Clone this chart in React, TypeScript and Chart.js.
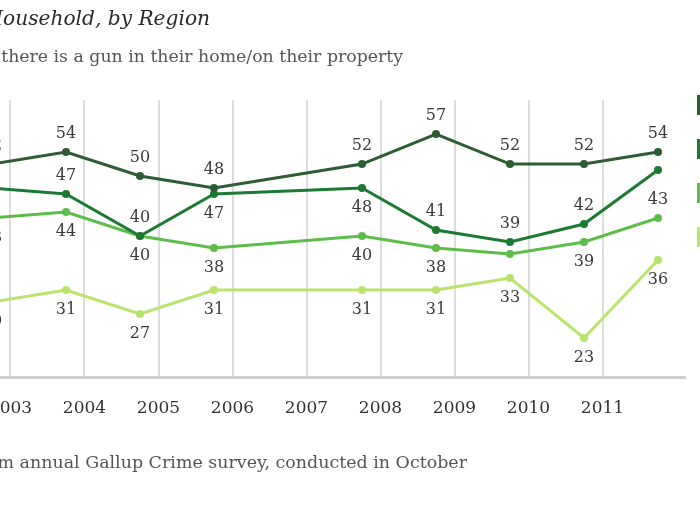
import React, { useEffect, useRef } from "react";
import { Chart, registerables } from "chart.js";

Chart.register(...registerables);

// ---- data ----
const years = [2003, 2004, 2005, 2006, 2008, 2009, 2010, 2011, 2012];
const tickYears = [2003, 2004, 2005, 2006, 2007, 2008, 2009, 2010, 2011];
const south = [52, 54, 50, 48, 52, 57, 52, 52, 54];
const midwest = [48, 47, 40, 47, 48, 41, 39, 42, 51];
const west = [43, 44, 40, 38, 40, 38, 37, 39, 43];
const east = [29, 31, 27, 31, 31, 31, 33, 23, 36];
const seriesNames = ["South", "Midwest", "West", "East"];

const titleText = "Gun in Household, by Region";
const subtitleText = "% Saying there is a gun in their home/on their property";
const footText = "Data from annual Gallup Crime survey, conducted in October";

// ---- style config ----
const colors = ["#2d5d33", "#1d7a33", "#5ebd4a", "#b8e36d"];
// label placement: a = above, b = below, "" = none
const labelPlacement = [
  ["a", "a", "a", "a", "a", "a", "a", "a", "a"],
  ["", "a", "a", "b", "b", "a", "a", "a", ""],
  ["b", "b", "b", "b", "b", "b", "", "b", "a"],
  ["b", "b", "b", "b", "b", "b", "b", "b", "b"],
];
const SERIF = "'DejaVu Serif', Georgia, serif";

function fitSize(ctx: CanvasRenderingContext2D, text: string, target: number, style: string) {
  ctx.font = `${style} 100px ${SERIF}`;
  const w = ctx.measureText(text).width;
  return (100 * target) / w;
}

const textPlugin = {
  id: "texts",
  afterDraw(chart: any) {
    const ctx: CanvasRenderingContext2D = chart.ctx;
    ctx.save();
    ctx.textAlign = "right";
    ctx.textBaseline = "alphabetic";
    let s = fitSize(ctx, "ousehold, by Region", 207, "italic");
    ctx.font = `italic ${s}px ${SERIF}`;
    ctx.fillStyle = "#2a2a2a";
    ctx.fillText(titleText, 210, 25);
    s = fitSize(ctx, "there is a gun in their home/on their property", 402, "normal");
    ctx.font = `normal ${s}px ${SERIF}`;
    ctx.fillStyle = "#555";
    ctx.fillText(subtitleText, 403, 62);
    s = fitSize(ctx, "m annual Gallup Crime survey, conducted in October", 470, "normal");
    ctx.font = `normal ${s}px ${SERIF}`;
    ctx.fillStyle = "#555";
    ctx.fillText(footText, 467, 468);
    // legend squares (their labels lie beyond the right edge)
    chart.data.datasets.forEach((ds: any, i: number) => {
      ctx.fillStyle = ds.borderColor;
      ctx.fillRect(697, 95 + 44 * i, 20, 20);
    });
    ctx.restore();
  },
};

const labelPlugin = {
  id: "pointLabels",
  afterDatasetsDraw(chart: any) {
    const ctx: CanvasRenderingContext2D = chart.ctx;
    ctx.save();
    ctx.font = `16px ${SERIF}`;
    ctx.fillStyle = "#3a3a3a";
    ctx.textAlign = "center";
    ctx.textBaseline = "middle";
    chart.data.datasets.forEach((ds: any, i: number) => {
      const meta = chart.getDatasetMeta(i);
      meta.data.forEach((pt: any, j: number) => {
        const pos = labelPlacement[i][j];
        if (!pos) return;
        const v = ds.data[j].y;
        const y = pos === "a" ? pt.y - 18 : pt.y + 20;
        ctx.fillText(String(v), pt.x, y);
      });
    });
    ctx.restore();
  },
};

export default function App() {
  const ref = useRef<HTMLCanvasElement | null>(null);

  useEffect(() => {
    if (!ref.current) return;
    const series = [south, midwest, west, east];
    const chart = new Chart(ref.current, {
      type: "line",
      data: {
        datasets: series.map((vals, i) => ({
          label: seriesNames[i],
          data: vals.map((v, j) => ({ x: years[j], y: v })),
          borderColor: colors[i],
          backgroundColor: colors[i],
          borderWidth: 3,
          pointRadius: 4,
          pointBorderWidth: 0,
          pointBackgroundColor: colors[i],
          tension: 0,
          clip: false as any,
        })),
      },
      options: {
        responsive: false,
        animation: false,
        devicePixelRatio: 1,
        layout: {
          autoPadding: false,
          padding: { left: 0, right: 15, top: 100, bottom: 107 },
        },
        plugins: {
          legend: { display: false },
          tooltip: { enabled: false },
          title: { display: false },
        },
        scales: {
          x: {
            type: "linear",
            min: 2004 - 66 / 74,
            max: 2004 + 619 / 74,
            afterBuildTicks: (axis: any) => {
              axis.ticks = tickYears.map((y) => ({ value: y + 0.25 }));
            },
            afterFit: (axis: any) => {
              axis.height = 41;
              axis.paddingLeft = 0;
              axis.paddingRight = 0;
            },
            ticks: {
              autoSkip: false,
              maxRotation: 0,
              padding: 21,
              color: "#333",
              font: { family: SERIF, size: 17 },
              callback: (_v: any, idx: number) => String(tickYears[idx]),
            },
            grid: {
              color: "#dcdcdc",
              lineWidth: 2,
              drawTicks: false,
            },
            border: { display: true, color: "#cfcfcf", width: 3 },
          },
          y: {
            display: false,
            min: 16.5,
            max: 62.67,
          },
        },
      },
      plugins: [labelPlugin, textPlugin],
    });
    return () => chart.destroy();
  }, []);

  return (
    <div style={{ position: "fixed", left: 0, top: 0, width: 700, height: 525, background: "#fff", overflow: "hidden" }}>
      <canvas ref={ref} width={700} height={525} style={{ display: "block" }} />
    </div>
  );
}
